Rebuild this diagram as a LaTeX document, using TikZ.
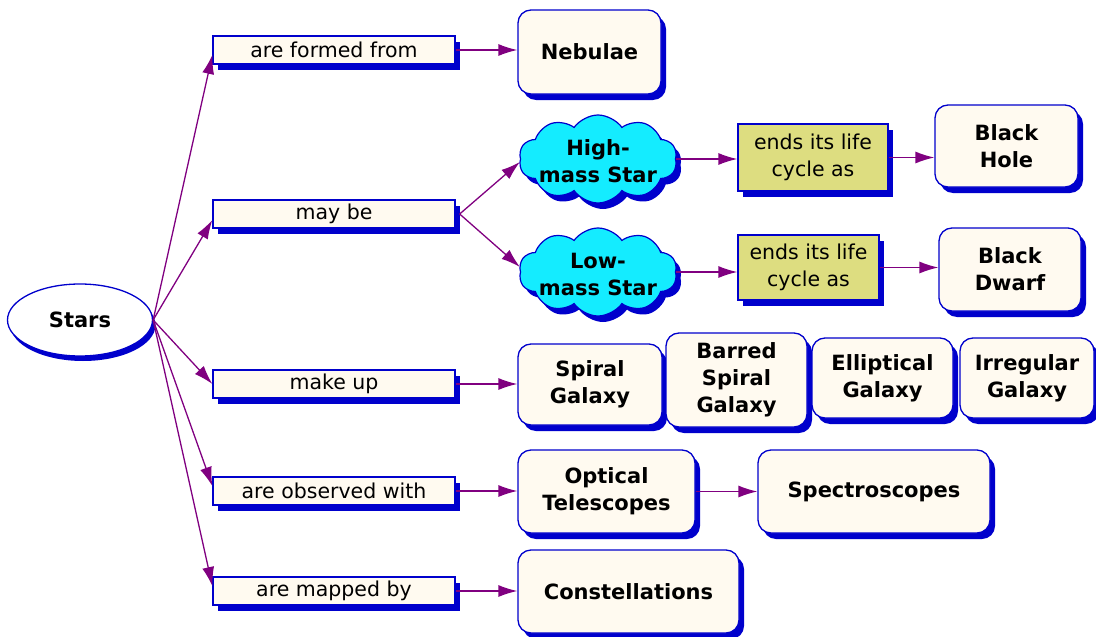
\documentclass[tikz,border=0pt]{standalone}
\usepackage{fontspec}
\setmainfont{DejaVu Sans}
\usetikzlibrary{shapes.geometric,shapes.symbols,shadows,arrows.meta}
\definecolor{bl}{RGB}{0,0,204}
\definecolor{cream}{RGB}{255,250,240}
\definecolor{cloudcyan}{RGB}{20,236,255}
\definecolor{yel}{RGB}{221,221,128}
\definecolor{pur}{RGB}{128,0,128}
\newcommand\confont{\fontsize{21}{27}\selectfont\bfseries}
\newcommand\labfont{\fontsize{20.5}{27}\selectfont}
\begin{document}
\begin{tikzpicture}[x=1pt,y=-1pt,
  shd/.style={drop shadow={shadow xshift=5pt, shadow yshift=-6pt, fill=bl, opacity=1}},
  lab/.style={rectangle, draw=bl, line width=1.3pt, fill=cream, minimum width=242pt,
    minimum height=28pt, inner sep=0pt, font=\labfont, shd},
  con/.style={rectangle, rounded corners=13pt, draw=bl, line width=1.3pt, fill=cream,
    inner sep=0pt, align=center, font=\confont, shd},
  yelbox/.style={rectangle, draw=bl, line width=1.3pt, fill=yel, inner sep=0pt,
    align=center, font=\labfont, shd},
  cloudst/.style={cloud, cloud puffs=10, cloud puff arc=110, cloud ignores aspect,
    draw=bl, line width=1.2pt, fill=cloudcyan, inner sep=0pt,
    minimum width=158pt, minimum height=88pt, shd},
  cloudtxt/.style={align=center, font=\confont, inner sep=0pt},
  arr/.style={draw=pur, line width=1.3pt, -{Latex[length=19pt,width=12pt]}}
]
\useasboundingbox (0,0) rectangle (1096,637);

% Stars
\node[ellipse, draw=bl, line width=1.3pt, fill=white, minimum width=145pt, minimum height=72pt,
  inner sep=0pt, font=\confont,
  drop shadow={shadow xshift=3pt, shadow yshift=-5pt, fill=bl, opacity=1}] (stars) at (80,320) {Stars};

% link labels
\node[lab] (fr) at (334,50) {are formed from};
\node[lab] (mb) at (334,214) {may be};
\node[lab] (mu) at (334,384) {make up};
\node[lab] (ob) at (334,491) {are observed with};
\node[lab] (mp) at (334,591) {are mapped by};

% concepts
\node[con, minimum width=143pt, minimum height=84pt] (neb) at (589.5,52) {Nebulae};
\node[cloudst] (hm) at (598,159) {};
\node[cloudtxt] (hmt) at (598,161) {High-\\mass Star};
\node[cloudst] (lm) at (598,272) {};
\node[cloudtxt] (lmt) at (598,274) {Low-\\mass Star};
\node[yelbox, minimum width=150pt, minimum height=67pt] (y1) at (813,157.5) {ends its life\\cycle as};
\node[yelbox, minimum width=141pt, minimum height=65pt] (y2) at (808.5,267.5) {ends its life\\cycle as};
\node[con, minimum width=143pt, minimum height=82pt] (bh) at (1006.5,146) {Black\\Hole};
\node[con, minimum width=142pt, minimum height=83pt] (bd) at (1010,269.5) {Black\\Dwarf};

\node[con, minimum width=144pt, minimum height=81pt] (sp) at (590,384.5) {Spiral\\Galaxy};
\node[con, minimum width=141pt, minimum height=94pt] (bs) at (736.5,380) {Barred\\Spiral\\Galaxy};
\node[con, minimum width=141pt, minimum height=80pt] (el) at (882.5,378) {Elliptical\\Galaxy};
\node[con, minimum width=134pt, minimum height=80pt] (ir) at (1027,378) {Irregular\\Galaxy};

\node[con, minimum width=177pt, minimum height=83pt] (opt) at (606.5,491.5) {Optical\\Telescopes};
\node[con, minimum width=232pt, minimum height=83pt] (spec) at (874,491.5) {Spectroscopes};
\node[con, minimum width=221pt, minimum height=83pt] (cons) at (628.5,591.5) {Constellations};

% connectors
\draw[arr] (stars.east) -- ([yshift=-5pt]fr.west);
\draw[arr] (stars.east) -- ([yshift=-6pt]mb.west);
\draw[arr] (stars.east) -- (mu.west);
\draw[arr] (stars.east) -- ([yshift=5pt]ob.west);
\draw[arr] (stars.east) -- ([yshift=5pt]mp.west);

\draw[arr] (fr.east) -- (fr.east -| neb.west);
\draw[arr] ([xshift=4pt]mb.east) -- ([yshift=-3pt]hm.west);
\draw[arr] ([xshift=4pt]mb.east) -- ([yshift=5pt]lm.west);
\draw[arr] (hm.east) -- (hm.east -| y1.west);
\draw[arr] (y1.east) -- (y1.east -| bh.west);
\draw[arr] (lm.east) -- (lm.east -| y2.west);
\draw[arr] (y2.east) -- (y2.east -| bd.west);
\draw[arr] (mu.east) -- (mu.east -| sp.west);
\draw[arr] (ob.east) -- (ob.east -| opt.west);
\draw[arr] (opt.east) -- (opt.east -| spec.west);
\draw[arr] (mp.east) -- (mp.east -| cons.west);
\end{tikzpicture}
\end{document}
